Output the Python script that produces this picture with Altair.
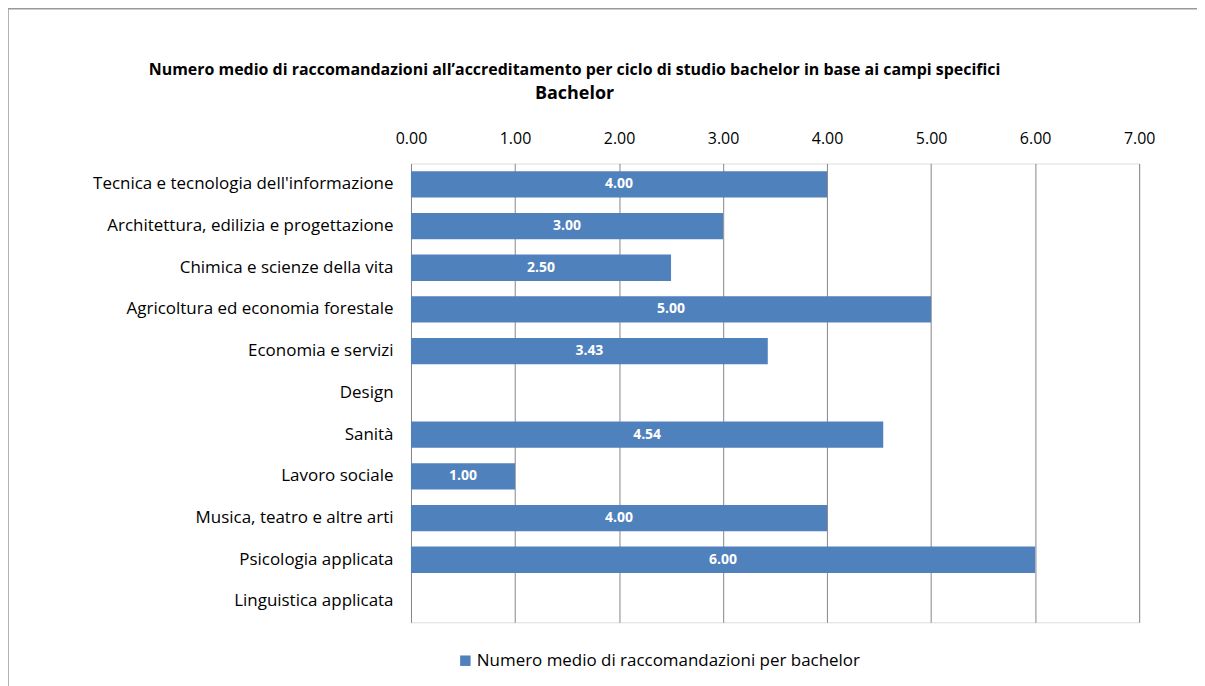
import altair as alt
import pandas as pd

categories = [
    "Tecnica e tecnologia dell'informazione",
    "Architettura, edilizia e progettazione\u00a0",
    "Chimica e scienze della vita",
    "Agricoltura ed economia forestale",
    "Economia e servizi",
    "Design",
    "Sanità",
    "Lavoro sociale\u00a0",
    "Musica, teatro e altre arti",
    "Psicologia applicata\u00a0",
    "Linguistica applicata",
]
values = [4.00, 3.00, 2.50, 5.00, 3.43, None, 4.54, 1.00, 4.00, 6.00, None]
x_ticks = [0, 1, 2, 3, 4, 5, 6, 7]
series_name = "Numero medio di raccomandazioni per bachelor"
title_main = "Numero medio di raccomandazioni all\u2019accreditamento per ciclo di studio bachelor in base ai campi specifici"
title_sub = "Bachelor"

df = pd.DataFrame({"category": categories, "value": values, "series": series_name})

FONT = "Open Sans"
BLUE = "#4F81BD"
GRID = "#868686"

y_scale = alt.Scale(domain=categories, paddingInner=0.37, paddingOuter=0.185)

y_enc = alt.Y("category:N", sort=categories, title=None, scale=y_scale,
              axis=alt.Axis(labelFontSize=17, labelColor="#000000", labelFont=FONT,
                            labelPadding=18, ticks=False, domain=False, labelLimit=400))
x_enc = alt.X("value:Q", title=None,
              scale=alt.Scale(domain=[0, 7], nice=False, zero=True),
              axis=alt.Axis(orient="top", values=x_ticks, format=".2f", labelFontSize=16,
                            labelColor="#000000", labelFont=FONT, ticks=False, domain=False,
                            labelFlush=False, grid=True, gridColor=GRID, gridWidth=1,
                            labelPadding=17))

base = alt.Chart(df)

frame = base.mark_rect(fill=None, stroke="#999999", strokeWidth=1.5, clip=False).encode(
    x=alt.value(-404), x2=alt.value(830), y=alt.value(-155), y2=alt.value(560)
).transform_filter("datum.category == 'Design'")

bars = base.mark_bar(color=BLUE).encode(
    y=y_enc,
    x=x_enc,
    color=alt.Color("series:N", scale=alt.Scale(range=[BLUE]),
                    legend=alt.Legend(title=None, orient="none", legendX=46, legendY=490,
                                      symbolType="square", symbolSize=110, labelFontSize=17,
                                      labelFont=FONT, labelColor="#000000", labelLimit=600,
                                      symbolStrokeWidth=0, labelOffset=3)),
).transform_filter("isValid(datum.value)")

labels = base.mark_text(color="white", fontWeight="bold", fontSize=14, font=FONT).encode(
    y=alt.Y("category:N", sort=categories, scale=y_scale),
    x=alt.X("mid:Q"),
    text=alt.Text("value:Q", format=".2f"),
).transform_filter("isValid(datum.value)").transform_calculate(mid="datum.value / 2")

chart = alt.layer(frame, bars, labels).properties(
    width=730,
    height=460,
    padding={"left": 404, "top": 155, "right": 58, "bottom": 63},
    autosize=alt.AutoSizeParams(type="none"),
    title=alt.TitleParams(
        text=title_main, subtitle=title_sub, anchor="middle", dx=-201,
        font=FONT, fontSize=16, fontWeight="bold", color="#000000",
        subtitleFont=FONT, subtitleFontSize=18, subtitleFontWeight="bold",
        subtitleColor="#000000", subtitlePadding=7, offset=-95,
    ),
).configure_view(stroke=GRID, strokeWidth=1).configure(background="white")

chart.save("out.html", embed_options={"renderer": "svg", "actions": False})
